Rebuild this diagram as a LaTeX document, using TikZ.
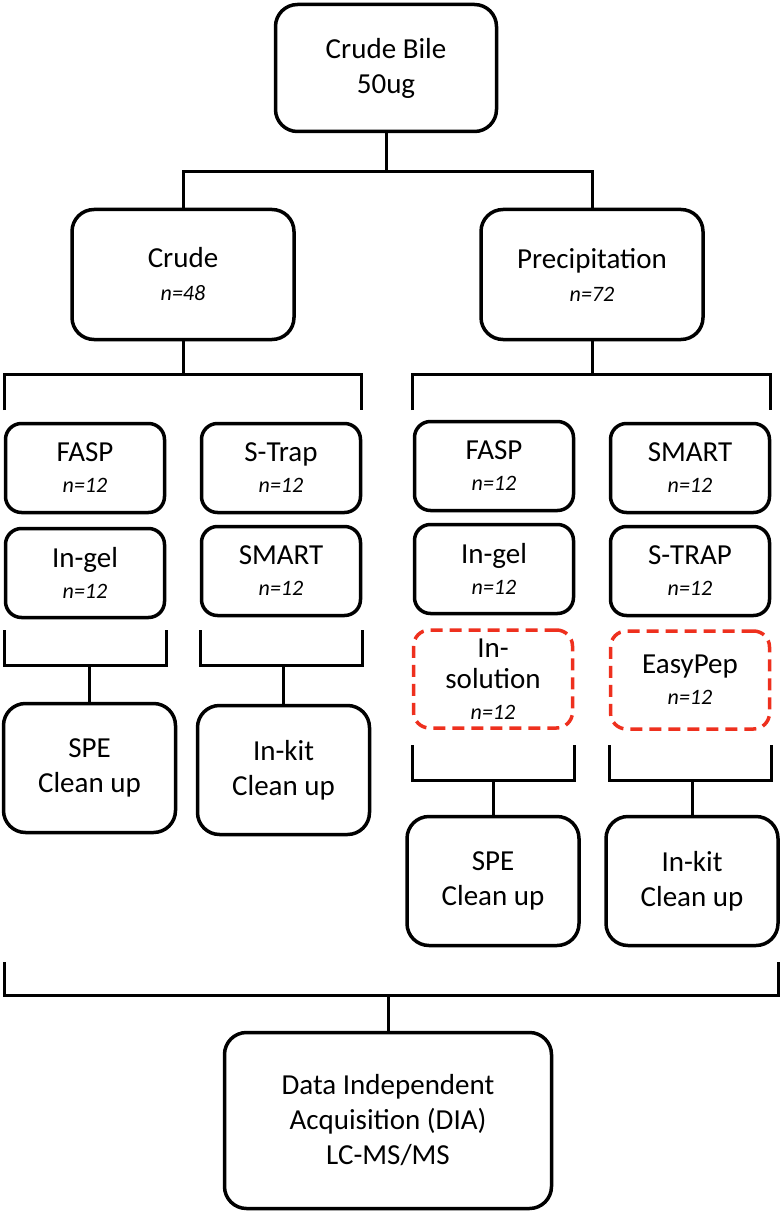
\documentclass[tikz,border=0pt]{standalone}
\usepackage{fontspec}
\setmainfont{Carlito}
\definecolor{dred}{RGB}{238,48,30}
\begin{document}
\begin{tikzpicture}[x=1pt,y=-1pt,
  box/.style={draw, line width=3.5pt, rounded corners=22pt, align=center, inner sep=0pt,
    font=\fontsize{29}{35}\selectfont},
  sbox/.style={box, rounded corners=16pt, minimum width=159pt, minimum height=89pt,
    font=\fontsize{29}{31}\selectfont},
  dbox/.style={sbox, draw=dred, dash pattern=on 12pt off 7pt, minimum height=98pt},
  conn/.style={line width=3pt},
  nn/.style={}]
\useasboundingbox (0,0) rectangle (780,1214);
\newcommand{\nlab}[1]{{\fontsize{22}{31}\selectfont\itshape #1}}

% top
\node[box, minimum width=221pt, minimum height=127pt] (top) at (386,68) {Crude Bile\\50ug};
\node[box, minimum width=222pt, minimum height=130pt, font=\fontsize{29}{33}\selectfont] (crude) at (183,274.5) {Crude\\\nlab{n=48}};
\node[box, minimum width=222pt, minimum height=130pt, font=\fontsize{29}{33}\selectfont] (prec) at (592,274.5) {Precipitation\\\nlab{n=72}};

% row 1
\node[sbox] (faspL) at (85,468) {FASP\\\nlab{n=12}};
\node[sbox] (strapL) at (281,468) {S-Trap\\\nlab{n=12}};
\node[sbox] (faspR) at (494,466) {FASP\\\nlab{n=12}};
\node[sbox] (smartR) at (690,468) {SMART\\\nlab{n=12}};
% row 2
\node[sbox] (ingelL) at (85,573) {In-gel\\\nlab{n=12}};
\node[sbox] (smartL) at (281,571) {SMART\\\nlab{n=12}};
\node[sbox] (ingelR) at (494,569) {In-gel\\\nlab{n=12}};
\node[sbox] (strapR) at (690,571) {S-TRAP\\\nlab{n=12}};
% dashed
\node[dbox] (insol) at (493,679) {In-\\solution\\\nlab{n=12}};
\node[dbox] (easy) at (690,680) {EasyPep\\\nlab{n=12}};

% cleanup
\node[box, minimum width=172pt, minimum height=129pt] (speL) at (89.5,768) {SPE\\Clean up};
\node[box, minimum width=172pt, minimum height=129pt] (kitL) at (283.5,770) {In-kit\\Clean up};
\node[box, minimum width=172pt, minimum height=129pt] (speR) at (493,881) {SPE\\Clean up};
\node[box, minimum width=172pt, minimum height=129pt] (kitR) at (692,881) {In-kit\\Clean up};

% DIA
\node[box, minimum width=327pt, minimum height=176pt] (dia) at (388,1120.5) {Data Independent\\Acquisition (DIA)\\LC-MS/MS};

% connectors top
\coordinate (j1) at (386,172);
\draw[conn] (top.south) -- (j1);
\draw[conn] (crude.north) |- (j1) -| (prec.north);

% crude bracket
\coordinate (jc) at (183,374);
\coordinate (cL) at (4,410);
\coordinate (cR) at (361,410);
\draw[conn] (crude.south) -- (jc);
\draw[conn] (cL) |- (jc) -| (cR);

% precipitation bracket
\coordinate (jp) at (592,374);
\coordinate (pL) at (412,410);
\coordinate (pR) at (770,410);
\draw[conn] (prec.south) -- (jp);
\draw[conn] (pL) |- (jp) -| (pR);

% left sub-brackets
\coordinate (a1) at (4,630); \coordinate (a2) at (166,630); \coordinate (ja) at (89.5,665);
\draw[conn] (a1) |- (ja) -| (a2);
\draw[conn] (ja) -- (speL.north);
\coordinate (b1) at (200,630); \coordinate (b2) at (362,630); \coordinate (jb) at (283.5,665);
\draw[conn] (b1) |- (jb) -| (b2);
\draw[conn] (jb) -- (kitL.north);

% right sub-brackets
\coordinate (c1) at (412,745); \coordinate (c2) at (574,745); \coordinate (jcc) at (493,780);
\draw[conn] (c1) |- (jcc) -| (c2);
\draw[conn] (jcc) -- (speR.north);
\coordinate (d1) at (609,745); \coordinate (d2) at (771,745); \coordinate (jd) at (692,780);
\draw[conn] (d1) |- (jd) -| (d2);
\draw[conn] (jd) -- (kitR.north);

% bottom bracket
\coordinate (e1) at (4,962); \coordinate (e2) at (778,962); \coordinate (je) at (388,995);
\draw[conn] (e1) |- (je) -| (e2);
\draw[conn] (je) -- (dia.north);
\end{tikzpicture}
\end{document}
